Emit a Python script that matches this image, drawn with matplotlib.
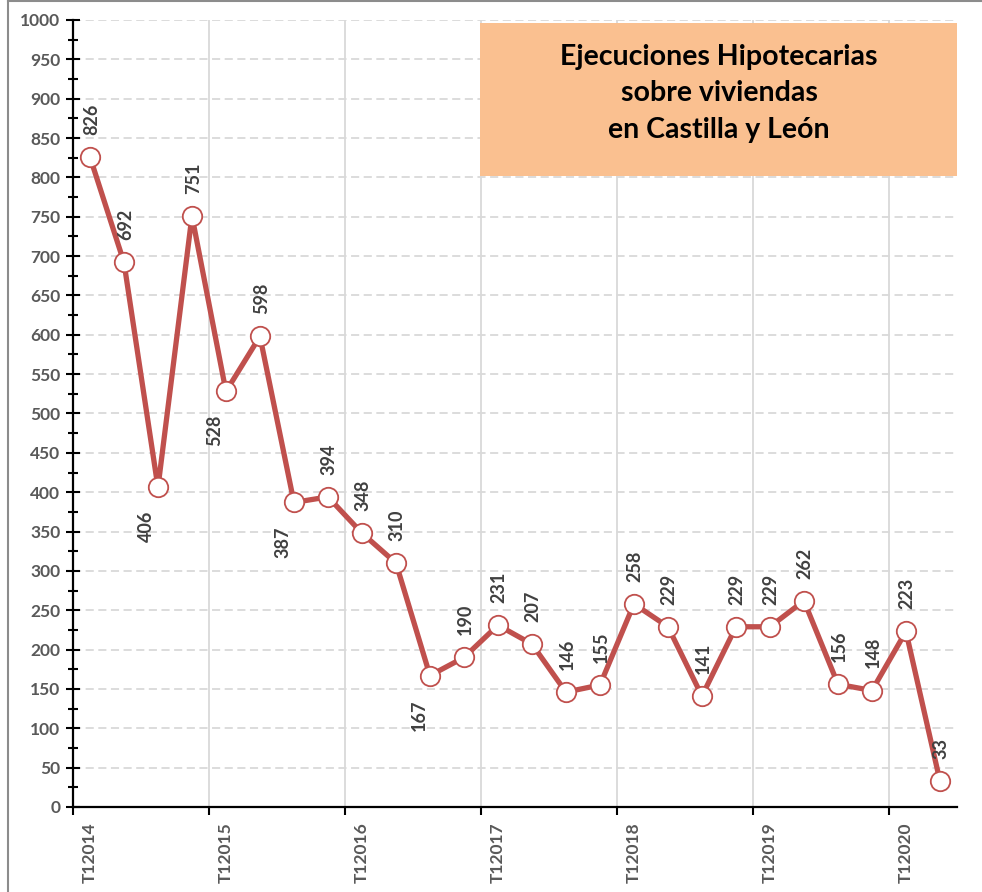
import numpy as np
import matplotlib
matplotlib.use("Agg")
import matplotlib.pyplot as plt
from matplotlib.patches import Rectangle
from matplotlib.lines import Line2D

# Quarterly values, T1 2014 .. T2 2020
quarters = [f"T{q}{y}" for y in range(2014, 2021) for q in range(1, 5)][:26]
values = [826, 692, 406, 751, 528, 598, 387, 394, 348, 310, 167, 190, 231,
          207, 146, 155, 258, 229, 141, 229, 229, 262, 156, 148, 223, 33]
# labels drawn below the point (the rest go above)
below = [2, 4, 6, 10]
year_labels = ["T12014", "T12015", "T12016", "T12017", "T12018", "T12019", "T12020"]

title_text = "Ejecuciones Hipotecarias\nsobre viviendas\nen Castilla y León"

FONT = "Lato"
line_color = "#C0504D"
label_gray = "#595959"
value_gray = "#404040"
grid_gray = "#D9D9D9"


def main():
    fig = plt.figure(figsize=(9.82, 8.92), dpi=100)
    ax = fig.add_axes([0.0743, 0.0953, 0.9002, 0.8823])

    x = np.arange(len(values))
    ax.plot(x, values, color=line_color, lw=3.8, marker="o", markersize=14,
            markerfacecolor="white", markeredgecolor=line_color,
            markeredgewidth=1.3, zorder=5, clip_on=False)

    # data labels, rotated like in the original
    for i, v in enumerate(values):
        if i in below:
            ax.annotate(str(v), (i, v), xytext=(-8, -17), textcoords="offset points",
                        rotation=90, ha="center", va="top", fontsize=13,
                        fontweight="bold", color=value_gray, family=FONT, zorder=6)
        else:
            ax.annotate(str(v), (i, v), xytext=(1, 16), textcoords="offset points",
                        rotation=90, ha="center", va="bottom", fontsize=13,
                        fontweight="bold", color=value_gray, family=FONT, zorder=6)

    ax.set_xlim(-0.5, len(values) - 0.5)
    ax.set_ylim(0, 1000)

    # y axis
    ax.set_yticks(np.arange(0, 1001, 50))
    ax.set_yticks(np.arange(0, 1001, 25), minor=True)
    ax.tick_params(axis="y", which="major", direction="inout", length=10, width=1.5,
                   pad=4, labelsize=12.5, labelcolor=label_gray)
    ax.tick_params(axis="y", which="minor", direction="inout", length=7, width=1.5)
    for lab in ax.get_yticklabels():
        lab.set_fontweight("bold")
        lab.set_family(FONT)

    # x axis: marks at year boundaries, labels under the T1 points
    bounds = np.arange(-0.5, len(values) - 1, 4)
    ax.set_xticks(bounds)
    ax.set_xticklabels([""] * len(bounds))
    ax.set_xticks(np.arange(0, len(values), 4), minor=True)
    ax.set_xticklabels(year_labels, minor=True, rotation=90, fontsize=12.5,
                       fontweight="bold", color=label_gray, family=FONT)
    ax.tick_params(axis="x", which="major", direction="out", length=6, width=1.5)
    ax.tick_params(axis="x", which="minor", length=0, pad=11)

    # grids
    for b in bounds[1:]:
        ax.axvline(b, color=grid_gray, lw=1.3, zorder=0)
    for yv in np.arange(50, 1001, 50):
        ax.axhline(yv, color=grid_gray, lw=1.3, ls=(0, (4.5, 2.5)), zorder=0)

    for s in ["top", "right"]:
        ax.spines[s].set_visible(False)
    for s in ["left", "bottom"]:
        ax.spines[s].set_linewidth(1.6)
        ax.spines[s].set_color("black")
        ax.spines[s].set_zorder(4)

    # title box
    ax.add_patch(Rectangle((0.460, 0.802), 0.540, 0.194, transform=ax.transAxes,
                           facecolor="#FAC090", edgecolor="none", zorder=2, clip_on=False))
    ax.text(0.731, 0.907, title_text, transform=ax.transAxes, ha="center", va="center",
            fontsize=20.5, fontweight="bold", color="black", family=FONT,
            linespacing=1.5, zorder=3)

    # chart border
    fig.add_artist(Line2D([8 / 982, 8 / 982], [0, 1 - 1 / 892], color="#8C8C8C", lw=1.5))
    fig.add_artist(Line2D([8 / 982, 1], [1 - 1 / 892, 1 - 1 / 892], color="#8C8C8C", lw=1.5))

    fig.savefig("out.png", dpi=100)


if __name__ == "__main__":
    main()
